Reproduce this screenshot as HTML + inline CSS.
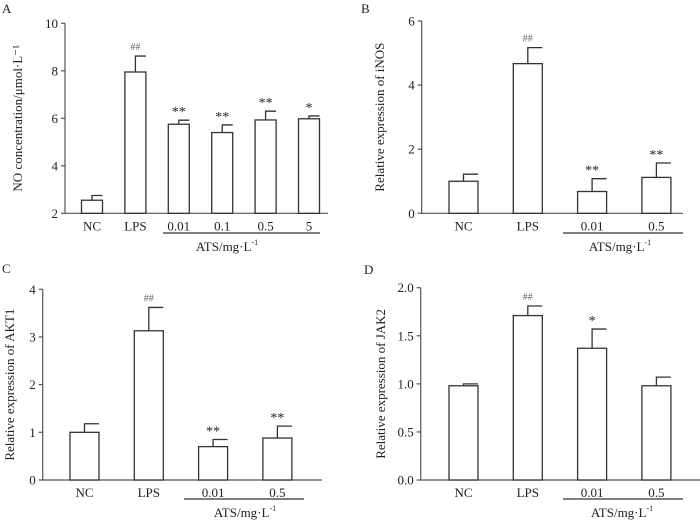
<!DOCTYPE html>
<html><head><meta charset="utf-8"><style>
html,body{margin:0;padding:0;background:#fff;}
svg{display:block;font-family:"Liberation Serif",serif;}
</style></head><body>
<svg id="fig" width="700" height="522" viewBox="0 0 700 522" xmlns="http://www.w3.org/2000/svg"></svg>
<script>
// Panel A data
const catsA = ["NC","LPS","0.01","0.1","0.5","5"];
const valsA = [2.55, 7.95, 5.75, 5.4, 5.93, 5.98];
const errA = [0.2, 0.67, 0.17, 0.32, 0.37, 0.12];
const sigA = ["", "##", "**", "**", "**", "*"];
const ticksA = [2,4,6,8,10];
// Panel B data
const catsB = ["NC","LPS","0.01","0.5"];
const valsB = [1.0, 4.67, 0.68, 1.12];
const errB = [0.22, 0.5, 0.4, 0.45];
const sigB = ["", "##", "**", "**"];
const ticksB = [0,2,4,6];
// Panel C data
const catsC = ["NC","LPS","0.01","0.5"];
const valsC = [1.0, 3.13, 0.7, 0.88];
const errC = [0.18, 0.49, 0.15, 0.25];
const sigC = ["", "##", "**", "**"];
const ticksC = [0,1,2,3,4];
// Panel D data
const catsD = ["NC","LPS","0.01","0.5"];
const valsD = [0.98, 1.71, 1.37, 0.98];
const errD = [0.02, 0.1, 0.2, 0.09];
const sigD = ["", "##", "*", ""];
const ticksD = ["0.0","0.5","1.0","1.5","2.0"];

const NS = "http://www.w3.org/2000/svg";
const svg = document.getElementById("fig");
function mk(tag, attrs, parent, text){
  const e = document.createElementNS(NS, tag);
  for (const k in attrs) e.setAttribute(k, attrs[k]);
  if (text !== undefined) e.textContent = text;
  (parent||svg).appendChild(e);
  return e;
}

function panel(p){
  const g = mk("g", {});
  
  
  const ymin = parseFloat(p.ticks[0]), ymax = parseFloat(p.ticks[p.ticks.length-1]);
  const y = v => p.y0 - (v - ymin) / (ymax - ymin) * (p.y0 - p.y1);
  const x = i => p.firstC + i * p.step;
  const lt = mk("text", {x:p.lx, y:p.ly, "font-size":13, fill:"#222"}, g, p.letter);
  
  
  const ax = mk("path", {d:`M${p.ax},${p.y1} L${p.ax},${p.y0} L${p.xend},${p.y0}`, stroke:"#555", "stroke-width":1.2, fill:"none"}, g);
  
  
  p.ticks.forEach(t => {
    const yy = y(parseFloat(t));
    mk("line", {x1:p.ax-4, x2:p.ax, y1:yy, y2:yy, stroke:"#555", "stroke-width":1.2}, g);
    const tl = mk("text", {x:p.ax-7, y:yy+4.5, "font-size":13, "text-anchor":"end", fill:"#222"}, g, String(t));
    
    
  });
  const yt = mk("text", {x:0, y:0, "font-size":13, "text-anchor":"middle", fill:"#222", transform:`translate(${p.ytx},${(p.y0+p.y1)/2}) rotate(-90)`}, g, p.ytitle);
  
  
  p.cats.forEach((c, i) => {
    const cx = x(i), top = y(p.vals[i]), et = y(p.vals[i] + p.err[i]);
    const b = mk("rect", {x:cx-p.bw/2, y:top, width:p.bw, height:p.y0-top, fill:"#fff", stroke:"#333", "stroke-width":1.3}, g);
    
    
    const eb = mk("path", {d:`M${cx},${top} L${cx},${et} L${cx+p.bw/2},${et}`, stroke:"#333", "stroke-width":1.3, fill:"none"}, g);
    
    
    if (p.sig[i]) {
      const hash = p.sig[i].indexOf("#") >= 0;
      const s = mk("text", {x:cx, y:et-(hash?6:4), "font-size":hash?10:14, "text-anchor":"middle", fill:hash?"#666":"#222"}, g, p.sig[i]);
      
      
    }
    const xl = mk("text", {x:cx, y:p.y0+17, "font-size":13, "text-anchor":"middle", fill:"#222"}, g, c);
    
    
  });
  const ul = mk("line", {x1:p.ux1, x2:p.ux2, y1:p.uy, y2:p.uy, stroke:"#333", "stroke-width":1.2}, g);
  
  
  const at = mk("text", {x:p.atx, y:p.aty, "font-size":13, "text-anchor":"middle", fill:"#222"}, g);
  
  
  mk("tspan", {}, at, "ATS/mg·L");
  mk("tspan", {dy:-6, "font-size":8}, at, "-1");
}

panel({name:"panel-a", letter:"A", lx:2, ly:13, cats:catsA, vals:valsA, err:errA, sig:sigA, ticks:ticksA,
  ax:65, y0:213.3, y1:23.3, xend:328, firstC:92, step:43.4, bw:21, ytx:22, ytitle:"NO concentration/μmol·L⁻¹",
  ux1:163, ux2:320, uy:233, atx:227, aty:251});
panel({name:"panel-b", letter:"B", lx:361, ly:13, cats:catsB, vals:valsB, err:errB, sig:sigB, ticks:ticksB,
  ax:421.7, y0:213.3, y1:21, xend:683, firstC:463.5, step:64.3, bw:29, ytx:384, ytitle:"Relative expression of iNOS",
  ux1:563, ux2:683, uy:233, atx:620, aty:251});
panel({name:"panel-c", letter:"C", lx:2, ly:273, cats:catsC, vals:valsC, err:errC, sig:sigC, ticks:ticksC,
  ax:42.7, y0:480, y1:289.3, xend:322, firstC:84.5, step:64.3, bw:29, ytx:14, ytitle:"Relative expression of AKT1",
  ux1:184, ux2:304, uy:499, atx:245, aty:517});
panel({name:"panel-d", letter:"D", lx:364, ly:274, cats:catsD, vals:valsD, err:errD, sig:sigD, ticks:ticksD,
  ax:420.7, y0:480, y1:287.7, xend:700, firstC:463.5, step:64.3, bw:29, ytx:385, ytitle:"Relative expression of JAK2",
  ux1:563, ux2:683, uy:499, atx:622, aty:517});
</script>
</body></html>
